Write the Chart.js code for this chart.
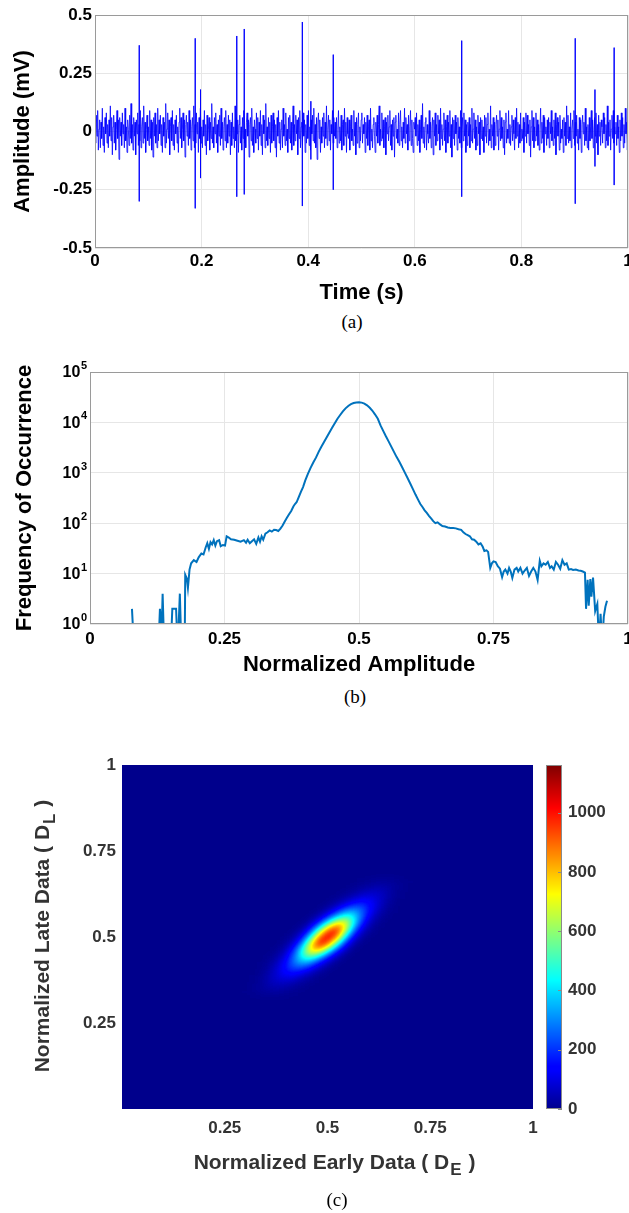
<!DOCTYPE html>
<html lang="en">
  <head>
    <meta charset="UTF-8" />
    <title>Signal, amplitude histogram and early/late density</title>
    <script src="https://cdn.jsdelivr.net/npm/chart.js@4.4.1/dist/chart.umd.min.js"></script>
    <style>
      body { margin: 0; width: 629px; height: 1213px; overflow: hidden; background: #fff; position: relative; }
      canvas { position: absolute; left: 0; }
      .cap { position: absolute; font-family: "Liberation Serif", "DejaVu Serif", serif; font-size: 19px; color: #000; transform: translate(-50%, -50%); }
    </style>
  </head>
  <body>
    <canvas id="sig" width="640" height="310" style="top:0"></canvas>
    <div class="cap" style="left:352px;top:322px">(a)</div>
    <canvas id="hist" width="640" height="345" style="top:340px"></canvas>
    <div class="cap" style="left:355px;top:697px">(b)</div>
    <canvas id="heat" width="629" height="470" style="top:720px"></canvas>
    <div class="cap" style="left:337px;top:1200px">(c)</div>

    <script>
      // ---- (a) recorded signal, in hundredths of a mV ----
      const noiseCentiMv = [
        3,-5,7,-2,9,-8,1,5,-7,4,-3,10,-6,2,-9,6,-1,8,-5,3,
        -7,5,-2,11,-4,6,-10,2,7,-5,4,-8,1,9,-3,5,-12,6,-2,4,
        -6,8,-1,3,-7,10,-4,2,-9,5,1,-6,7,-3,12,-5,3,-8,6,-2,
        4,-10,5,-1,8,-6,3,-4,9,-7,2,6,-5,11,-3,4,-9,1,7,-4,
        2,-6,9,-3,5,-8,4,-11,6,-2,8,-5,3,-7,10,-4,5,-1,7,-6,
        3,-9,6,-2,4,-7,12,-5,1,8,-3,5,-10,2,6,-4,9,-6,3,-8,
        5,-1,7,-5,2,-9,4,10,-3,6,-7,1,8,-4,5,-11,3,7,-2,4,
        -6,9,-3,5,-8,2,6,-4,11,-7,3,-5,8,-1,4,-9,6,-3,10,-5,
        2,-7,5,-2,9,-6,3,-10,7,-4,1,6,-8,4,-3,12,-5,2,-7,6,
        -1,8,-5,3,-9,5,-2,7,-6,10,-3,4,-8,2,6,-4,9,-7,3,-5,
        7,-2,5,-10,4,-6,8,-3,2,-7,11,-4,6,-1,5,-9,3,7,-5,2,
        -8,6,-3,9,-5,1,-7,4,8,-2,5,-11,3,6,-4,10,-6,2,-9,5,
        1,-5,8,-3,6,-8,4,-2,9,-6,3,-10,7,-1,5,-7,12,-4,2,-6,
        6,-3,4,-9,7,-5,2,8,-4,5,-7,3,-11,6,-2,9,-5,4,-8,1,
        5,-7,10,-2,3,-6,8,-4,1,-9,6,-3,7,-5,4,-8,2,11,-6,3,
        -4,7,-1,5,-10,6,-3,9,-7,2,4,-6,8,-2,5,-9,3,-5,7,-3,
        9,-6,2,-8,5,-1,7,-4,10,-5,3,-7,6,-12,4,8,-3,5,-9,2,
        -5,6,-2,8,-7,4,-3,11,-6,1,7,-4,5,-8,3,-1,9,-5,6,-2,
        4,-3,6,-7,1,9,-5,2,-4,7,-8,3,5,-6,10,-2,4,-9,6,-1,
        -3,5,-8,2,7,-4,1,-6,9,-2,4,-10,6,-5,3,8,-7,2,-4,5,
        8,-5,3,-1,6,-9,4,-3,7,-6,2,5,-8,10,-4,1,-7,3,6,-2,
        -9,4,-2,7,-5,3,11,-6,1,-4,8,-3,5,-7,2,6,-10,4,-1,7,
        -4,2,9,-6,3,-8,5,-2,6,-11,4,7,-3,1,-5,8,-6,3,9,-4,
        2,-7,4,-3,10,-5,6,-1,3,-8,7,-4,2,9,-6,5,-3,-9,4,1,
        6,-2,8,-6,3,-4,5,-9,1,7,-3,12,-5,2,-7,4,6,-8,3,-1,
        -5,9,-3,4,-7,2,6,-10,5,-2,8,-6,3,-4,7,-1,5,-8,10,-3,
        3,-6,1,8,-4,5,-9,2,7,-5,4,-2,9,-7,3,-11,6,-3,5,-6,
        7,-1,4,-8,6,-3,2,-5,9,-7,1,6,-4,8,-2,5,-9,3,-6,4,
        -2,6,-7,3,-4,10,-5,1,8,-3,5,-8,2,-6,7,-1,4,-10,6,-3,
        5,-4,2,-9,7,-2,6,-5,3,8,-6,1,-4,11,-7,3,-2,6,-8,4,
        -6,3,7,-2,5,-8,1,9,-4,6,-3,2,-7,5,-10,4,8,-5,1,-3,
        9,-5,3,-6,2,7,-4,5,-1,-8,6,-3,10,-2,4,-7,3,-5,8,-4,
        1,-3,6,-9,4,-2,8,-5,7,-1,3,-6,5,-11,2,9,-4,6,-7,2,
        -4,8,-2,5,-6,3,-8,1,10,-5,4,-3,7,-9,6,-1,2,-6,5,-3,
        6,-7,4,-1,9,-4,2,-6,5,-3,8,-10,3,6,-2,4,-8,7,-5,1,
        -3,5,-9,6,-2,4,-6,11,-3,7,-5,2,-4,8,-7,1,5,-3,9,-6,
        4,-2,7,-5,1,-8,6,-3,5,-9,3,7,-1,4,-6,10,-4,2,-7,3,
        -8,6,-4,2,9,-3,5,-7,1,6,-2,8,-5,3,-10,7,-2,4,-6,5,
        2,-5,8,-1,6,-7,3,-4,11,-6,4,-2,5,-8,1,7,-3,9,-5,2,
        -1,4,-6,7,-3,2,-9,5,-4,8,-2,6,-7,3,-5,10,-1,4,-8,3
      ];
      const spikeTimes   = [0.083, 0.188, 0.198, 0.266, 0.280, 0.389, 0.405, 0.447, 0.688, 0.901, 0.938, 0.974];
      const spikePeaks   = [0.37, 0.40, 0.18, 0.41, 0.44, 0.47, 0.13, 0.33, 0.39, 0.40, 0.18, 0.36];
      const spikeSecond  = [0.23, 0.27, 0.10, 0.23, 0.20, 0.25, 0.08, 0.28, 0.20, 0.19, 0.10, 0.26];
      const spikeTroughs = [-0.30, -0.33, -0.20, -0.28, -0.27, -0.32, -0.12, -0.25, -0.28, -0.31, -0.15, -0.23];

      // ---- (b) histogram of normalized amplitude ----
      const histX = [
        0.078,0.082,0.108,0.110,0.112,0.127,0.130,0.133,0.135,0.138,0.150,0.153,0.160,0.163,0.167,0.170,0.176,
        0.177,0.180,0.182,0.185,0.188,0.193,0.198,0.202,0.207,0.211,0.215,0.218,0.221,0.224,0.227,0.230,0.233,0.236,
        0.240,0.243,0.247,0.251,0.254,0.258,0.262,0.268,0.274,0.280,0.286,0.290,0.293,0.297,0.301,0.305,0.309,0.313,
        0.316,0.319,0.322,0.326,0.330,0.334,0.338,0.342,0.346,0.350,0.354,0.358,0.362,0.366,0.370,0.374,0.378,0.381,
        0.384,0.388,0.392,0.396,0.400,0.405,0.410,0.415,0.420,0.425,0.430,0.435,0.440,0.445,0.450,0.455,0.460,0.465,
        0.470,0.475,0.480,0.485,0.490,0.495,0.500,0.505,0.510,0.515,0.520,0.525,0.530,0.535,0.540,0.545,0.550,0.555,
        0.560,0.565,0.570,0.575,0.580,0.585,0.590,0.595,0.600,0.605,0.610,0.614,0.618,0.622,0.626,0.630,0.634,0.638,
        0.642,0.646,0.650,0.655,0.660,0.665,0.670,0.675,0.680,0.685,0.690,0.694,0.698,0.702,0.706,0.710,0.714,0.718,
        0.722,0.726,0.730,0.733,0.737,0.740,0.744,0.747,0.750,0.754,0.758,0.762,0.766,0.769,0.772,0.776,0.779,0.782,
        0.785,0.789,0.793,0.796,0.800,0.804,0.808,0.812,0.816,0.820,0.824,0.828,0.832,0.836,0.839,0.843,0.847,0.851,
        0.855,0.858,0.862,0.866,0.870,0.874,0.878,0.882,0.886,0.890,0.894,0.898,0.903,0.908,0.912,0.916,0.920,0.922,
        0.925,0.927,0.930,0.932,0.935,0.939,0.943,0.946,0.949,0.952,0.955,0.958,0.961
      ];
      const histCount = [
        2,0.3,0.3,1.05,0.3,0.3,2,0.6,4,0.3,0.3,2,2,0.3,4,0.3,0.3,
        9.5,8,5.2,12,16,18.5,17,21,25,24,33,40,31,42,38,46,36,44,
        46,35,37,36,55,52,48,47,45,43,46,41,47,40,44,48,39,52,
        43,55,47,62,66,72,68,74,73,70,78,90,108,128,150,175,215,240,
        260,330,420,520,700,950,1250,1600,2000,2600,3300,4100,5100,6300,7800,9600,11800,14000,
        16500,19000,21200,23000,24200,24900,25000,24700,23600,21800,19500,17000,14300,11800,8700,6800,5300,4200,
        3300,2600,2050,1650,1300,1020,800,620,480,370,290,240,210,180,160,140,125,110,
        100,104,96,88,86,82,80,80,79,76,74,66,61,58,55,48,47,43,
        38,40,34,28,29,27,13,16,17.5,17,14,12.5,8.5,11,12,10,13,11,
        8.2,12,13,11,13,10,11.5,13,9,11,13,11,7.5,18,14,16,15,17,
        13,14,12,17,15,12.5,18.5,15,16,12,12.3,11.8,12,11.5,11.4,11,10.5,2,
        7.5,2.3,7.8,3.5,8.3,1.8,2.5,0.4,1.6,0.4,1.4,2.2,2.9
      ];
      const histDecades = [1, 10, 100, 1000, 10000, 100000];

      // ---- (c) joint density, rows along D_L, cells offset in D_E from the diagonal ----
      const heatStep = 0.02;
      const heatRowsY = [0.34,0.36,0.38,0.40,0.42,0.44,0.46,0.48,0.50,0.52,0.54,0.56,0.58,0.60,0.62,0.64,0.66];
      const heatOffsets = [-0.08,-0.06,-0.04,-0.02,0,0.02,0.04,0.06,0.08];
      const heatValues = [
        [0,1,3,9,17,23,20,11,4],
        [0,2,8,23,44,54,40,21,7],
        [1,5,20,54,88,100,76,38,13],
        [2,11,40,100,165,181,131,64,21],
        [4,21,76,181,286,308,222,104,32],
        [7,38,131,308,484,498,333,148,43],
        [13,64,230,540,820,790,480,195,48],
        [21,104,350,800,1120,990,560,195,43],
        [32,150,480,980,1200,980,480,150,32],
        [43,195,560,990,1120,800,350,104,21],
        [48,195,480,790,820,540,230,64,13],
        [43,148,333,498,484,308,131,38,7],
        [32,104,222,308,286,181,76,21,4],
        [21,64,131,181,165,100,40,11,2],
        [13,38,76,100,88,54,20,5,1],
        [7,21,40,54,44,23,8,2,0],
        [4,11,20,23,17,9,3,1,0]
      ];
      const cbMax = 1160;
      const cbTicks = [0, 200, 400, 600, 800, 1000];
      const heatTicks = [0.25, 0.5, 0.75, 1];
      const heatXTitle = ["Normalized Early Data ( D", "E", " )"];
      const heatYTitle = ["Normalized Late Data ( D", "L", " )"];

      const FONT = '"Liberation Sans", Arial, Helvetica, sans-serif';
      const tickFont = { family: FONT, size: 17, weight: "bold" };
      const titleFont = { family: FONT, size: 22, weight: "bold" };
      const plain = (v) => String(Number(Number(v).toFixed(3)));

      // full MATLAB-style box round the plot area
      const boxPlugin = {
        id: "box",
        afterDatasetsDraw(chart, args, opts) {
          const { ctx, chartArea: a } = chart;
          ctx.save();
          ctx.strokeStyle = opts.color || "#999";
          ctx.lineWidth = 1;
          ctx.strokeRect(Math.round(a.left) + 0.5, Math.round(a.top) + 0.5,
            Math.round(a.right - a.left) - 1, Math.round(a.bottom - a.top) - 1);
          ctx.restore();
        },
      };

      // ---------- (a) ----------
      const noiseStep = 1 / (noiseCentiMv.length - 1);
      const noisePts = noiseCentiMv.map((v, i) => ({ x: i * noiseStep, y: v / 100 }));
      const spikePts = [];
      spikeTimes.forEach((t, i) => {
        spikePts.push({ x: t, y: 0 }, { x: t, y: spikePeaks[i] }, { x: t, y: spikeSecond[i] },
          { x: t, y: spikeTroughs[i] }, { x: t, y: 0 }, { x: t, y: null });
      });

      new Chart(document.getElementById("sig"), {
        type: "line",
        data: {
          datasets: [
            { data: noisePts, borderColor: "rgba(0,0,255,0.88)", borderWidth: 0.9, pointRadius: 0, tension: 0 },
            { data: spikePts, borderColor: "#0000ff", borderWidth: 1, pointRadius: 0, spanGaps: false },
          ],
        },
        options: {
          responsive: false,
          animation: false,
          events: [],
          layout: { padding: { top: 15, right: 12, bottom: 0, left: 0 } },
          plugins: { legend: { display: false }, tooltip: { enabled: false }, box: { color: "#9a9a9a" } },
          scales: {
            x: {
              type: "linear", min: 0, max: 1,
              afterFit: (s) => { s.height = 62; },
              ticks: { stepSize: 0.2, padding: 3, color: "#000", font: tickFont, maxRotation: 0, callback: plain },
              grid: { color: "#e6e6e6", drawTicks: false },
              border: { display: false },
              title: { display: true, text: "Time (s)", color: "#000", font: titleFont, padding: { top: 0, bottom: 4 } },
            },
            y: {
              min: -0.5, max: 0.5,
              afterFit: (s) => { s.width = 95; },
              ticks: { stepSize: 0.25, padding: 3, color: "#000", font: tickFont, callback: plain },
              grid: { color: "#e6e6e6", drawTicks: false },
              border: { display: false },
              title: { display: true, text: "Amplitude (mV)", color: "#000", font: titleFont, padding: { top: 10, bottom: 0 } },
            },
          },
        },
        plugins: [boxPlugin],
      });

      // ---------- (b) ----------
      const decadeLabels = {
        id: "decades",
        afterDraw(chart) {
          const { ctx } = chart;
          const ys = chart.scales.y;
          ctx.save();
          ctx.fillStyle = "#000";
          ctx.textBaseline = "middle";
          ctx.textAlign = "right";
          histDecades.forEach((v) => {
            const py = ys.getPixelForValue(v);
            const exp = String(Math.round(Math.log10(v)));
            ctx.font = `bold 11px ${FONT}`;
            const ew = ctx.measureText(exp).width;
            ctx.fillText(exp, ys.right - 3, py - 6);
            ctx.font = `bold 16px ${FONT}`;
            ctx.fillText("10", ys.right - 3 - ew - 0.5, py + 1);
          });
          ctx.restore();
        },
      };

      new Chart(document.getElementById("hist"), {
        type: "line",
        data: {
          datasets: [
            {
              data: histX.map((x, i) => ({ x, y: histCount[i] })),
              borderColor: "#0072BD", borderWidth: 2, pointRadius: 0, tension: 0,
            },
          ],
        },
        options: {
          responsive: false,
          animation: false,
          events: [],
          layout: { padding: { top: 32, right: 12, bottom: 0, left: 0 } },
          plugins: { legend: { display: false }, tooltip: { enabled: false }, box: { color: "#9a9a9a" } },
          scales: {
            x: {
              type: "linear", min: 0, max: 1,
              afterFit: (s) => { s.height = 61; },
              ticks: { stepSize: 0.25, padding: 5, color: "#000", font: tickFont, maxRotation: 0, callback: plain },
              grid: { color: "#e6e6e6", drawTicks: false },
              border: { display: false },
              title: { display: true, text: "Normalized Amplitude", color: "#000", font: titleFont, padding: { top: 0, bottom: 7 } },
            },
            y: {
              type: "logarithmic", min: 1, max: 100000,
              afterBuildTicks: (s) => { s.ticks = histDecades.map((v) => ({ value: v })); },
              afterFit: (s) => { s.width = 90; },
              ticks: { display: false },
              grid: { color: "#e6e6e6", drawTicks: false },
              border: { display: false },
              title: { display: true, text: "Frequency of Occurrence", color: "#000", font: titleFont, padding: { top: 12, bottom: 0 } },
            },
          },
        },
        plugins: [boxPlugin, decadeLabels],
      });

      // ---------- (c) ----------
      function jet(t) {
        const c = (v) => Math.round(255 * Math.min(1, Math.max(0, v)));
        return [
          c(Math.min(4 * t - 1.5, -4 * t + 4.5)),
          c(Math.min(4 * t - 0.5, -4 * t + 3.5)),
          c(Math.min(4 * t + 0.55, -4 * t + 2.5)),
        ];
      }

      function drawSubTitle(ctx, parts, cx, cy, rotate) {
        const mainFont = `bold 21px ${FONT}`;
        const subFont = `bold 17px ${FONT}`;
        ctx.save();
        ctx.translate(cx, cy);
        if (rotate) ctx.rotate(-Math.PI / 2);
        ctx.fillStyle = "#333";
        ctx.textBaseline = "middle";
        ctx.textAlign = "left";
        ctx.font = mainFont;
        const w1 = ctx.measureText(parts[0]).width;
        const w3 = ctx.measureText(parts[2]).width;
        ctx.font = subFont;
        const w2 = ctx.measureText(parts[1]).width;
        let x = -(w1 + w2 + w3) / 2;
        ctx.font = mainFont;
        ctx.fillText(parts[0], x, 0);
        x += w1 + 1;
        ctx.font = subFont;
        ctx.fillText(parts[1], x, 7);
        x += w2 + 1;
        ctx.font = mainFont;
        ctx.fillText(parts[2], x, 0);
        ctx.restore();
      }

      const heatPlugin = {
        id: "heatmap",
        afterDraw(chart) {
          const { ctx, chartArea: a, scales } = chart;
          const { x, y, cb } = scales;
          const left = Math.round(a.left), top = Math.round(a.top);
          const w = Math.round(a.right) - left, h = Math.round(a.bottom) - top;

          // values as grey levels first, then smoothed and mapped to jet
          const raw = document.createElement("canvas");
          raw.width = w; raw.height = h;
          const g = raw.getContext("2d");
          g.fillStyle = "#000";
          g.fillRect(0, 0, w, h);
          const half = heatStep / 2;
          heatRowsY.forEach((yv, i) => {
            heatOffsets.forEach((k, j) => {
              const v = heatValues[i][j];
              if (!v) return;
              const xv = yv + k;
              const x0 = x.getPixelForValue(xv - half) - left;
              const x1 = x.getPixelForValue(xv + half) - left;
              const y0 = y.getPixelForValue(yv + half) - top;
              const y1 = y.getPixelForValue(yv - half) - top;
              const q = Math.min(255, Math.round((255 * v) / cbMax));
              g.fillStyle = `rgb(${q},${q},${q})`;
              g.fillRect(x0, y0, x1 - x0, y1 - y0);
            });
          });
          const smooth = document.createElement("canvas");
          smooth.width = w; smooth.height = h;
          const s = smooth.getContext("2d");
          s.fillStyle = "#000";
          s.fillRect(0, 0, w, h);
          s.filter = "blur(4px)";
          s.drawImage(raw, 0, 0);
          s.filter = "none";
          const img = s.getImageData(0, 0, w, h);
          const d = img.data;
          for (let p = 0; p < d.length; p += 4) {
            const [r, gg, b] = jet(d[p] / 255);
            d[p] = r; d[p + 1] = gg; d[p + 2] = b; d[p + 3] = 255;
          }
          s.putImageData(img, 0, 0);
          ctx.drawImage(smooth, left, top);

          // colour bar
          const bx = Math.round(cb.left) + 13, bw = 16;
          for (let py = Math.floor(cb.top); py < cb.bottom; py++) {
            const [r, gg, b] = jet(cb.getValueForPixel(py + 0.5) / cbMax);
            ctx.fillStyle = `rgb(${r},${gg},${b})`;
            ctx.fillRect(bx, py, bw, 1);
          }
          ctx.strokeStyle = "#8a8a8a";
          ctx.lineWidth = 1;
          ctx.strokeRect(bx + 0.5, Math.round(cb.top) + 0.5, bw - 1, Math.round(cb.bottom - cb.top) - 1);
          ctx.beginPath();
          cbTicks.forEach((v) => {
            const py = Math.round(cb.getPixelForValue(v)) + 0.5;
            ctx.moveTo(bx + bw - 4, py);
            ctx.lineTo(bx + bw, py);
          });
          ctx.stroke();

          drawSubTitle(ctx, heatYTitle, 43, 217, true);
          drawSubTitle(ctx, heatXTitle, (a.left + a.right) / 2 + 6, 443, false);
        },
      };

      new Chart(document.getElementById("heat"), {
        type: "scatter",
        data: { datasets: [] },
        options: {
          responsive: false,
          animation: false,
          events: [],
          layout: { padding: { top: 26, right: 0, bottom: 0, left: 0 } },
          plugins: { legend: { display: false }, tooltip: { enabled: false } },
          scales: {
            x: {
              type: "linear", min: 0, max: 1,
              afterBuildTicks: (s) => { s.ticks = heatTicks.map((v) => ({ value: v })); },
              afterFit: (s) => { s.height = 81; },
              ticks: { padding: 9, color: "#333", font: tickFont, maxRotation: 0, callback: plain },
              grid: { display: false, drawTicks: false },
              border: { display: false },
            },
            y: {
              type: "linear", min: 0, max: 1,
              afterBuildTicks: (s) => { s.ticks = heatTicks.map((v) => ({ value: v })); },
              afterFit: (s) => { s.width = 122; },
              ticks: { padding: 6, color: "#333", font: tickFont, callback: plain },
              grid: { display: false, drawTicks: false },
              border: { display: false },
            },
            cb: {
              type: "linear", axis: "y", position: "right", min: 0, max: cbMax,
              afterBuildTicks: (s) => { s.ticks = cbTicks.map((v) => ({ value: v })); },
              afterFit: (s) => { s.width = 96; },
              ticks: { padding: 35, color: "#333", font: tickFont, callback: plain },
              grid: { display: false, drawTicks: false },
              border: { display: false },
            },
          },
        },
        plugins: [heatPlugin],
      });
    </script>
  </body>
</html>
